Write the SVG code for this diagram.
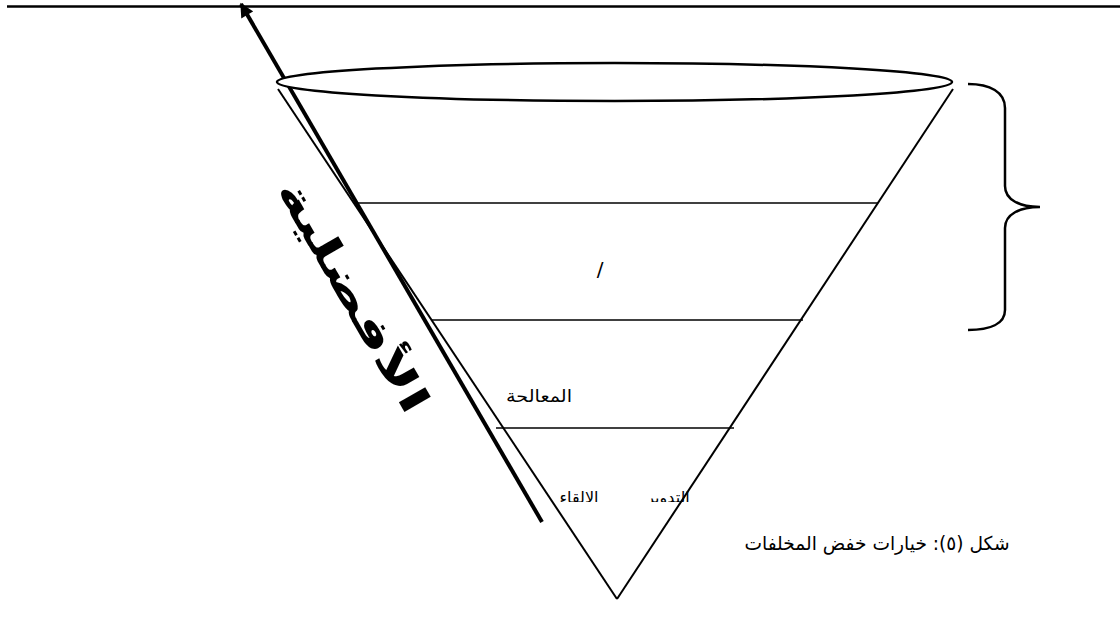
<svg xmlns="http://www.w3.org/2000/svg" width="1120" height="630" viewBox="0 0 1120 630">
<style>
.ln{stroke:#000;fill:none}
.t{font-family:"DejaVu Sans","Liberation Sans",sans-serif;fill:#000}
</style>
<defs>
<marker id="ah" viewBox="0 0 10 10" refX="9" refY="5" markerWidth="4" markerHeight="3.5" orient="auto" markerUnits="strokeWidth">
<path d="M0,0 L10,5 L0,10 z" fill="#000"/>
</marker>
<clipPath id="cl"><rect x="540" y="485" width="170" height="17"/></clipPath>
</defs>
<rect width="1120" height="630" fill="#fff"/>
<g id="connectors">
<line class="ln" x1="7" y1="6.5" x2="1120" y2="6.5" stroke-width="2.6"/>
<line class="ln" x1="542" y1="522" x2="241" y2="4" stroke-width="4" marker-end="url(#ah)"/>
</g>
<g id="cone">
<line class="ln" x1="278" y1="89" x2="617" y2="599" stroke-width="2"/>
<line class="ln" x1="953" y1="89" x2="617" y2="599" stroke-width="2"/>
<ellipse cx="614.5" cy="82" rx="337.5" ry="19" fill="#fff" stroke="#000" stroke-width="2.5"/>
<line class="ln" x1="355" y1="203" x2="878" y2="203" stroke-width="1.6"/>
<line class="ln" x1="432" y1="320" x2="803" y2="320" stroke-width="1.6"/>
<line class="ln" x1="496" y1="428" x2="734" y2="428" stroke-width="1.6"/>
</g>
<g id="labels">
<text class="t" x="600" y="276" font-size="20" text-anchor="middle">/</text>
<text class="t" x="539" y="402" font-size="17" text-anchor="middle" textLength="66" lengthAdjust="spacingAndGlyphs">المعالحة</text>
<g clip-path="url(#cl)">
<text class="t" x="579" y="503" font-size="16" text-anchor="middle">الإلقاء</text>
<text class="t" x="668" y="503" font-size="16" text-anchor="middle">التدوير</text>
</g>
<text class="t" transform="translate(352,297) rotate(60)" x="0" y="12" font-size="40" font-weight="bold" text-anchor="middle" textLength="262" lengthAdjust="spacingAndGlyphs">الأفضلية</text>
<text class="t" x="877" y="550" font-size="19" text-anchor="middle" textLength="265" lengthAdjust="spacingAndGlyphs">شكل (٥): خيارات خفض المخلفات</text>
</g>
<g id="brace">
<path class="ln" stroke-width="2.5" d="M968,84 C990,84 1005,92 1005,108 L1005,186 C1005,200 1020,207 1040,207 C1020,207 1005,214 1005,228 L1005,310 C1005,324 990,330 968,330"/>
</g>
</svg>
